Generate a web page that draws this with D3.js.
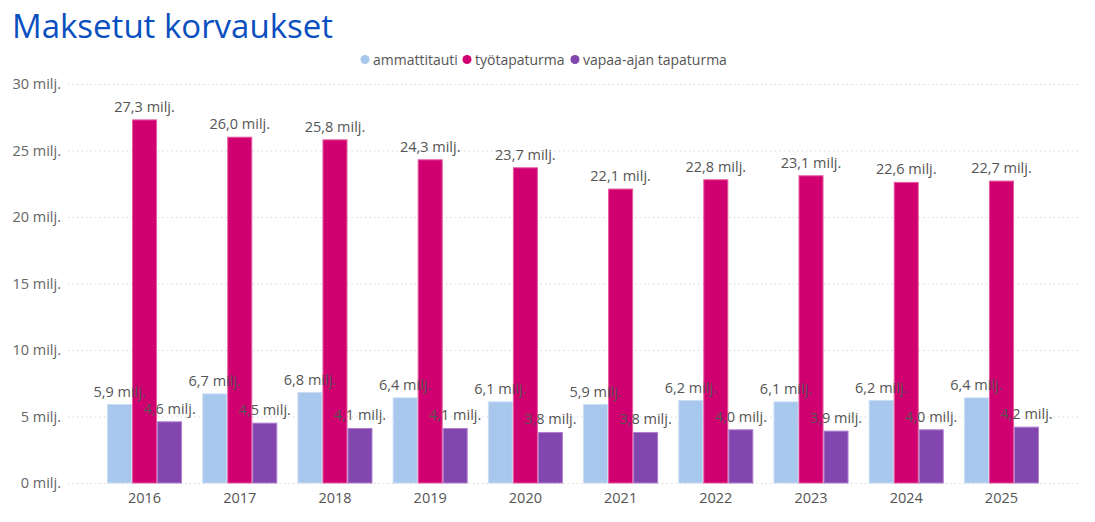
<!DOCTYPE html>
<html><head><meta charset="utf-8">
<script src="https://cdn.jsdelivr.net/npm/d3@7/dist/d3.min.js"></script>
<style>body{margin:0;background:#fff;}svg{display:block;font-family:"Open Sans","Noto Sans",sans-serif;}</style>
</head><body><svg id="c" width="1095" height="522"></svg>
<script>
const years = ["2016","2017","2018","2019","2020","2021","2022","2023","2024","2025"];
const seriesNames = ["ammattitauti","työtapaturma","vapaa-ajan tapaturma"];
const ammattitauti = [5.9,6.7,6.8,6.4,6.1,5.9,6.2,6.1,6.2,6.4];
const tyotapaturma = [27.3,26.0,25.8,24.3,23.7,22.1,22.8,23.1,22.6,22.7];
const vapaaajan = [4.6,4.5,4.1,4.1,3.8,3.8,4.0,3.9,4.0,4.2];
const yTicks = [0,5,10,15,20,25,30];
const colors = ["#A7C7ED","#D10070","#8246AF"];
const strokes = ["#C9DDF5","#E45A9F","#B07FD0"];

const svg = d3.select("#c");
const seriesVals = [ammattitauti, tyotapaturma, vapaaajan];
const fmt = v => d3.format(".1f")(v).replace(".", ",") + " milj.";

svg.append("text").attr("x",12).attr("y",38).attr("fill","#0A4FBF")
  .style("font-size","33px").text("Maksetut korvaukset");

// legend
const legX = [365, 467, 575];
seriesNames.forEach((n,i)=>{
  const g = svg.append("g");
  g.append("circle").attr("cx",legX[i]).attr("cy",59.5).attr("r",4.5).attr("fill",colors[i]);
  g.append("text").attr("x",legX[i]+8).attr("y",64.5).attr("fill","#555").style("font-size","14px").text(n);
});

const x = d3.scaleBand().domain(years).range([68,1078]).paddingInner(0.212).paddingOuter(0.41);
const xs = d3.scaleBand().domain(d3.range(3)).range([0,x.bandwidth()]);
const y = d3.scaleLinear().domain([0,30]).range([483,84]);

// grid
svg.append("g").selectAll("line").data(yTicks).join("line")
  .attr("x1",68).attr("x2",1078).attr("y1",d=>y(d)+0.5).attr("y2",d=>y(d)+0.5)
  .attr("stroke","#d8d8d8").attr("stroke-dasharray","1.5,3");

// y axis labels
const yAxis = d3.axisLeft(y).tickValues(yTicks).tickSize(0).tickPadding(0).tickFormat(d=>d+" milj.");
const ya = svg.append("g").attr("transform","translate(61,0)").call(yAxis);
ya.select(".domain").remove();
ya.selectAll("text").attr("fill","#666").style("font-size","14.5px").style("font-family","'Open Sans','Noto Sans',sans-serif").attr("dy","0.32em");

// x axis
const xAxis = d3.axisBottom(x).tickSize(0).tickPadding(0);
const xa = svg.append("g").attr("transform","translate(0,490)").call(xAxis);
xa.select(".domain").remove();
xa.selectAll("text").attr("fill","#555").style("font-size","14.5px").style("font-family","'Open Sans','Noto Sans',sans-serif").attr("dy","0.9em");

// bars
seriesVals.forEach((vals,si)=>{
  svg.append("g").selectAll("rect").data(vals).join("rect")
    .attr("x",(d,i)=>x(years[i])+xs(si)+0.5)
    .attr("y",d=>y(d))
    .attr("width",xs.bandwidth()-1)
    .attr("height",d=>y(0)-y(d))
    .attr("fill",colors[si]).attr("stroke",strokes[si]).attr("stroke-width",1);
});
// labels
seriesVals.forEach((vals,si)=>{
  svg.append("g").selectAll("text").data(vals).join("text")
    .attr("x",(d,i)=>x(years[i])+xs(si)+xs.bandwidth()/2)
    .attr("y",d=>y(d)-8)
    .attr("text-anchor","middle").attr("fill","#555")
    .style("font-size","14.5px").text(d=>fmt(d));
});
</script></body></html>
